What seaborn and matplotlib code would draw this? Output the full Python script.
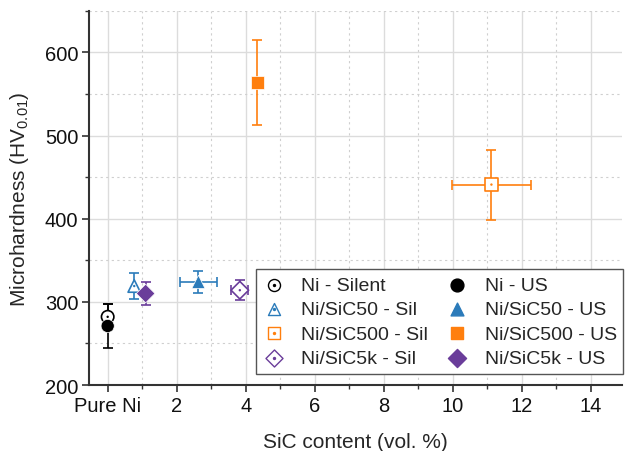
import numpy as np
import pandas as pd
import matplotlib
matplotlib.use('Agg')
import matplotlib.pyplot as plt
import seaborn as sns
from matplotlib.ticker import MultipleLocator, FixedLocator
from matplotlib.legend_handler import HandlerTuple

# данные: содержание SiC и микротвёрдость
labels_sil = ['Ni - Silent', 'Ni/SiC50 - Sil', 'Ni/SiC500 - Sil', 'Ni/SiC5k - Sil']
labels_us = ['Ni - US', 'Ni/SiC50 - US', 'Ni/SiC500 - US', 'Ni/SiC5k - US']
colors = ['black', '#2b7bba', '#ff7f0e', '#6a3d9a']
markers = ['o', '^', 's', 'D']

sil_x = [0.0, 0.77, 11.12, 3.83]
sil_xerr = [0.0, 0.0, 1.15, 0.25]
sil_y = [282, 319, 441, 314]
sil_yerr = [16, 16, 42, 12]

us_x = [0.0, 2.63, 4.34, 1.10]
us_xerr = [0.0, 0.53, 0.08, 0.08]
us_y = [271, 324, 564, 310]
us_yerr = [27, 13, 51, 14]

x_ticks = [0, 2, 4, 6, 8, 10, 12, 14]
x_ticklabels = ['Pure Ni', '2', '4', '6', '8', '10', '12', '14']

df = pd.DataFrame({
    'x': sil_x + us_x,
    'y': sil_y + us_y,
    'label': labels_sil + labels_us,
})

sns.set_theme(style='white')
plt.rcParams['font.family'] = ['Liberation Sans', 'DejaVu Sans']
plt.rcParams['mathtext.fontset'] = 'custom'
plt.rcParams['mathtext.rm'] = 'Liberation Sans'
plt.rcParams['mathtext.it'] = 'Liberation Sans'

fig = plt.figure(figsize=(6.25, 4.52), dpi=100)
ax = fig.add_axes([0.143, 0.146, 0.852, 0.828])

ax.grid(which='major', color='#dcdcdc', lw=1.0, ls='-', zorder=0)
ax.grid(which='minor', color='#cfcfcf', lw=0.8, ls=(0, (2, 3)), zorder=0)
ax.set_axisbelow(True)

for i in range(4):
    c = colors[i]
    ax.errorbar(sil_x[i], sil_y[i], xerr=sil_xerr[i] or None, yerr=sil_yerr[i],
                fmt='none', ecolor=c, elinewidth=1.2, capsize=3.5, capthick=1.2, zorder=2)
    ax.errorbar(us_x[i], us_y[i], xerr=us_xerr[i] or None, yerr=us_yerr[i],
                fmt='none', ecolor=c, elinewidth=1.2, capsize=3.5, capthick=1.2, zorder=2)

palette_sil = dict(zip(labels_sil, colors))
palette_us = dict(zip(labels_us, colors))
sil_df = df[df['label'].isin(labels_sil)]
us_df = df[df['label'].isin(labels_us)]

sns.scatterplot(data=sil_df, x='x', y='y', hue='label',
                style='label', markers=dict(zip(labels_sil, markers)),
                palette=palette_sil, s=80, linewidth=1.2,
                legend=False, ax=ax, zorder=3)
ax.collections[-1].set_facecolor('white')
ax.collections[-1].set_edgecolor([palette_sil[l] for l in sil_df['label']])
sns.scatterplot(data=sil_df, x='x', y='y', hue='label',
                palette=palette_sil, s=3, linewidth=0, legend=False, ax=ax, zorder=4)
sns.scatterplot(data=us_df, x='x', y='y', hue='label',
                style='label', markers=dict(zip(labels_us, markers)),
                palette=palette_us, s=90, linewidth=0.5, legend=False, ax=ax, zorder=3)

sil_handles = []
us_handles = []
for i in range(4):
    h_out = ax.scatter([], [], marker=markers[i], s=75, facecolor='white',
                       edgecolor=colors[i], linewidth=1.0)
    h_dot = ax.scatter([], [], marker='o', s=2, color=colors[i])
    sil_handles.append((h_out, h_dot))
    us_handles.append(ax.scatter([], [], marker=markers[i], s=85, color=colors[i],
                                 edgecolor=colors[i]))

leg = ax.legend(sil_handles + us_handles, labels_sil + labels_us, ncol=2,
                loc='lower right', bbox_to_anchor=(1.003, 0.03), fontsize=14,
                frameon=True, fancybox=False, framealpha=1, edgecolor='#555555',
                handler_map={tuple: HandlerTuple(ndivide=1, pad=0)},
                handlelength=1.2, handletextpad=0.8, columnspacing=0.9,
                labelspacing=0.35, borderpad=0.35, borderaxespad=0)
leg.get_frame().set_linewidth(1.0)

ax.set_xlim(-0.53, 14.9)
ax.set_ylim(200, 650)
ax.xaxis.set_major_locator(FixedLocator(x_ticks))
ax.set_xticklabels(x_ticklabels)
ax.xaxis.set_minor_locator(MultipleLocator(1))
ax.yaxis.set_major_locator(FixedLocator([200, 300, 400, 500, 600]))
ax.yaxis.set_minor_locator(MultipleLocator(50))

for side in ['top', 'right']:
    ax.spines[side].set_visible(False)
for side in ['left', 'bottom']:
    ax.spines[side].set_color('#333333')
    ax.spines[side].set_linewidth(1.5)

ax.tick_params(which='major', direction='out', length=5, width=1.2, color='#333333',
               labelsize=14.5, labelcolor='#111111', bottom=True, left=True, pad=3)
ax.tick_params(which='minor', direction='out', length=3, width=1.0, color='#333333',
               bottom=True, left=True)

ax.set_xlabel('SiC content (vol. %)', fontsize=15, labelpad=12)
ax.set_ylabel('Microhardness (HV$_{0.01}$)', fontsize=15, labelpad=10)

fig.savefig('out.png', dpi=100)
